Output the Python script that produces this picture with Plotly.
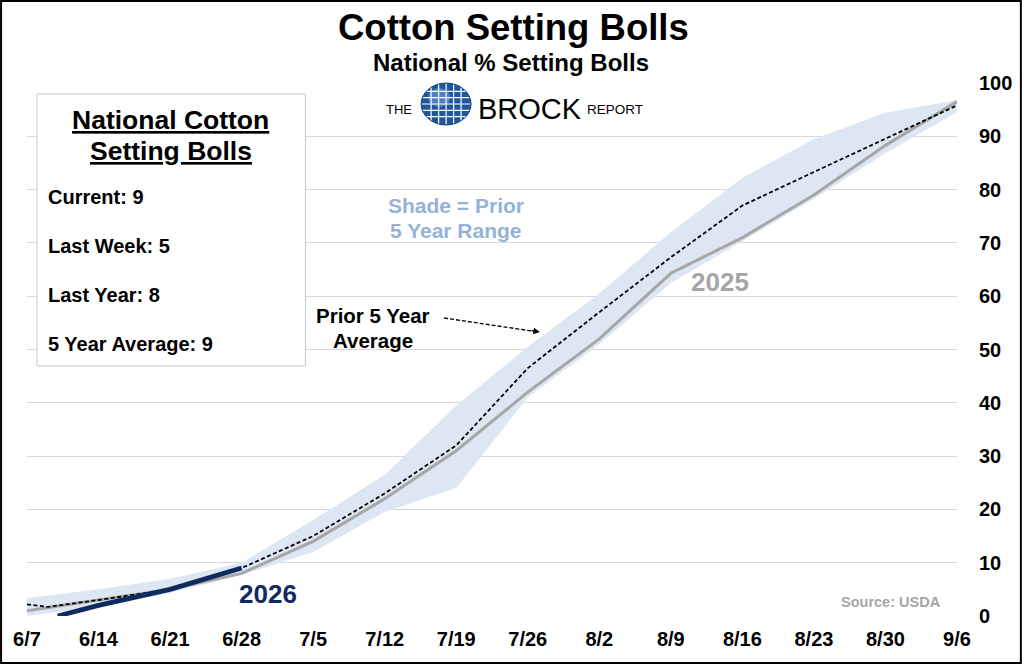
import plotly.graph_objects as go

# weekly x positions and tick labels
week_dates = ["2026-06-07", "2026-06-14", "2026-06-21", "2026-06-28", "2026-07-05",
              "2026-07-12", "2026-07-19", "2026-07-26", "2026-08-02", "2026-08-09",
              "2026-08-16", "2026-08-23", "2026-08-30", "2026-09-06"]
tick_labels = ["6/7", "6/14", "6/21", "6/28", "7/5", "7/12", "7/19", "7/26",
               "8/2", "8/9", "8/16", "8/23", "8/30", "9/6"]

# prior 5 year range (shade)
range_low = [0, 1.8, 4.3, 7.7, 12, 19.5, 24, 41, 51, 62.5, 70.3, 78.3, 86.8, 94.5]
range_high = [3.4, 5, 7, 10, 18, 26.5, 39.5, 50.5, 60.5, 72, 82.2, 89.5, 94.4, 96.8]

# last year
pct_2025 = [1, 3, 5, 8, 14, 22, 31, 42, 52, 64.3, 71, 79, 88.3, 96.5]

# prior 5 year average
avg_dates = ["2026-06-07", "2026-06-09", "2026-06-14", "2026-06-21", "2026-06-28",
             "2026-07-05", "2026-07-12", "2026-07-19", "2026-07-26", "2026-08-02",
             "2026-08-09", "2026-08-16", "2026-08-23", "2026-08-30", "2026-09-06"]
avg_5yr = [2.2, 1.7, 3, 5, 9, 15, 23, 32, 46.5, 57, 67.3, 77, 83.3, 89.5, 95.8]

# current year
dates_2026 = ["2026-06-10", "2026-06-14", "2026-06-21", "2026-06-28"]
pct_2026 = [0, 2, 5, 9]

FONT = "Liberation Sans, Arial, sans-serif"
W, H = 1024, 664
L, R, T, B = 27, 65, 83, 48
PW, PH = W - L - R, H - T - B


def px(x):
    return (x - L) / PW


def py(y):
    return (H - B - y) / PH


fig = go.Figure()

# shaded range
fig.add_trace(go.Scatter(x=week_dates, y=range_low, mode='lines',
                         line=dict(width=0, color='#dce6f2'), showlegend=False, hoverinfo='skip'))
fig.add_trace(go.Scatter(x=week_dates, y=range_high, mode='lines', fill='tonexty',
                         fillcolor='#dde7f3', line=dict(width=0, color='#dce6f2'),
                         showlegend=False, hoverinfo='skip'))

fig.add_trace(go.Scatter(x=week_dates, y=pct_2025, mode='lines', name='2025',
                         line=dict(color='#a6a6a6', width=3), showlegend=False))
fig.add_trace(go.Scatter(x=avg_dates, y=avg_5yr, mode='lines', name='5 Year Average',
                         line=dict(color='black', width=1.8, dash='4px,2.5px'), showlegend=False))
fig.add_trace(go.Scatter(x=dates_2026, y=pct_2026, mode='lines', name='2026',
                         line=dict(color='#0f2a5f', width=4.8), showlegend=False))

shapes = []
# outer frame
shapes.append(dict(type='rect', xref='paper', yref='paper', x0=px(1), x1=px(1023),
                   y0=py(663), y1=py(1), line=dict(color='black', width=2), layer='above'))
# info box
shapes.append(dict(type='rect', xref='paper', yref='paper', x0=px(37), x1=px(306),
                   y0=py(366), y1=py(94), line=dict(color='#c8c8c8', width=1),
                   fillcolor='white', layer='above'))

# globe logo
gx, gy, grx, gry = 447, 104, 25, 21
shapes.append(dict(type='circle', xref='paper', yref='paper', x0=px(gx - grx), x1=px(gx + grx),
                   y0=py(gy + gry), y1=py(gy - gry), fillcolor='#1f56a0',
                   line=dict(color='#173f7a', width=1), layer='above'))
shapes.append(dict(type='circle', xref='paper', yref='paper', x0=px(gx - 18), x1=px(gx + 4),
                   y0=py(gy + 3), y1=py(gy - 16), fillcolor='#6a9cdb',
                   line=dict(width=0), opacity=0.6, layer='above'))
for f in [-0.6, -0.3, 0, 0.3, 0.6]:
    k = (1 - f ** 2) ** 0.5 * 0.97
    shapes.append(dict(type='line', xref='paper', yref='paper',
                       x0=px(gx + f * grx), x1=px(gx + f * grx),
                       y0=py(gy - k * gry), y1=py(gy + k * gry),
                       line=dict(color='white', width=1.2), layer='above'))
    shapes.append(dict(type='line', xref='paper', yref='paper',
                       x0=px(gx - k * grx), x1=px(gx + k * grx),
                       y0=py(gy + f * gry), y1=py(gy + f * gry),
                       line=dict(color='white', width=1.2), layer='above'))

# dashed arrow pointing to the average line
shapes.append(dict(type='line', xref='paper', yref='paper', x0=px(445), y0=py(318),
                   x1=px(533), y1=py(331), line=dict(color='black', width=1.3, dash='4px,2px')))
ann = []
ann.append(dict(xref='paper', yref='paper', x=px(541), y=py(332), ax=-10, ay=-1.5,
                axref='pixel', ayref='pixel', text='', showarrow=True, arrowhead=2,
                arrowsize=1, arrowwidth=1.3, arrowcolor='black'))


def label(x, y, text, size, color='black', bold=True, xanchor='center'):
    ann.append(dict(xref='paper', yref='paper', x=px(x), y=py(y), text=text, showarrow=False,
                    xanchor=xanchor, yanchor='middle',
                    font=dict(family=FONT, size=size, color=color,
                              weight='bold' if bold else 'normal')))


label(515, 28, 'Cotton Setting Bolls', 36.5)
label(512, 62, 'National % Setting Bolls', 24)

label(400, 109, 'THE', 13, bold=False)
label(531, 109, 'BROCK', 29, bold=False)
label(586, 109.5, 'REPORT', 13.5, bold=False, xanchor='left')

label(171, 120, '<u>National Cotton</u>', 26.5)
label(171, 151, '<u>Setting Bolls</u>', 26.5)
label(46, 197, 'Current: 9', 20, xanchor='left')
label(46, 246, 'Last Week: 5', 20, xanchor='left')
label(46, 295, 'Last Year: 8', 20, xanchor='left')
label(46, 344, '5 Year Average: 9', 20, xanchor='left')

label(457, 205, 'Shade = Prior', 21, color='#95b3d7')
label(457, 230, '5 Year Range', 21, color='#95b3d7')

label(374, 315, 'Prior 5 Year', 20.5)
label(374, 340, 'Average', 20.5)

label(721, 282, '2025', 26, color='#a6a6a6')
label(269, 594, '2026', 26, color='#0f2a5f')
label(893, 602, 'Source: USDA', 14.5, color='#a6a6a6')

fig.update_layout(
    width=W, height=H,
    margin=dict(l=L, r=R, t=T, b=B),
    paper_bgcolor='white', plot_bgcolor='white',
    showlegend=False,
    shapes=shapes, annotations=ann,
    font=dict(family=FONT, color='black'),
    xaxis=dict(type='date', range=["2026-06-07", "2026-09-06"], tickvals=week_dates,
               ticktext=tick_labels, showgrid=False, zeroline=False, showline=False,
               ticks='outside', ticklen=5, tickcolor='rgba(0,0,0,0)',
               tickfont=dict(family=FONT, size=20, color='black', weight='bold')),
    yaxis=dict(side='right', range=[0, 100], dtick=10, showgrid=True, gridcolor='#d9d9d9',
               gridwidth=1, zeroline=False, showline=False,
               ticks='outside', ticklen=17, tickcolor='rgba(0,0,0,0)',
               tickfont=dict(family=FONT, size=20, color='black', weight='bold')),
)

fig.write_html("out.html", config={'displayModeBar': False},
               post_script="document.body.style.margin='0';")
